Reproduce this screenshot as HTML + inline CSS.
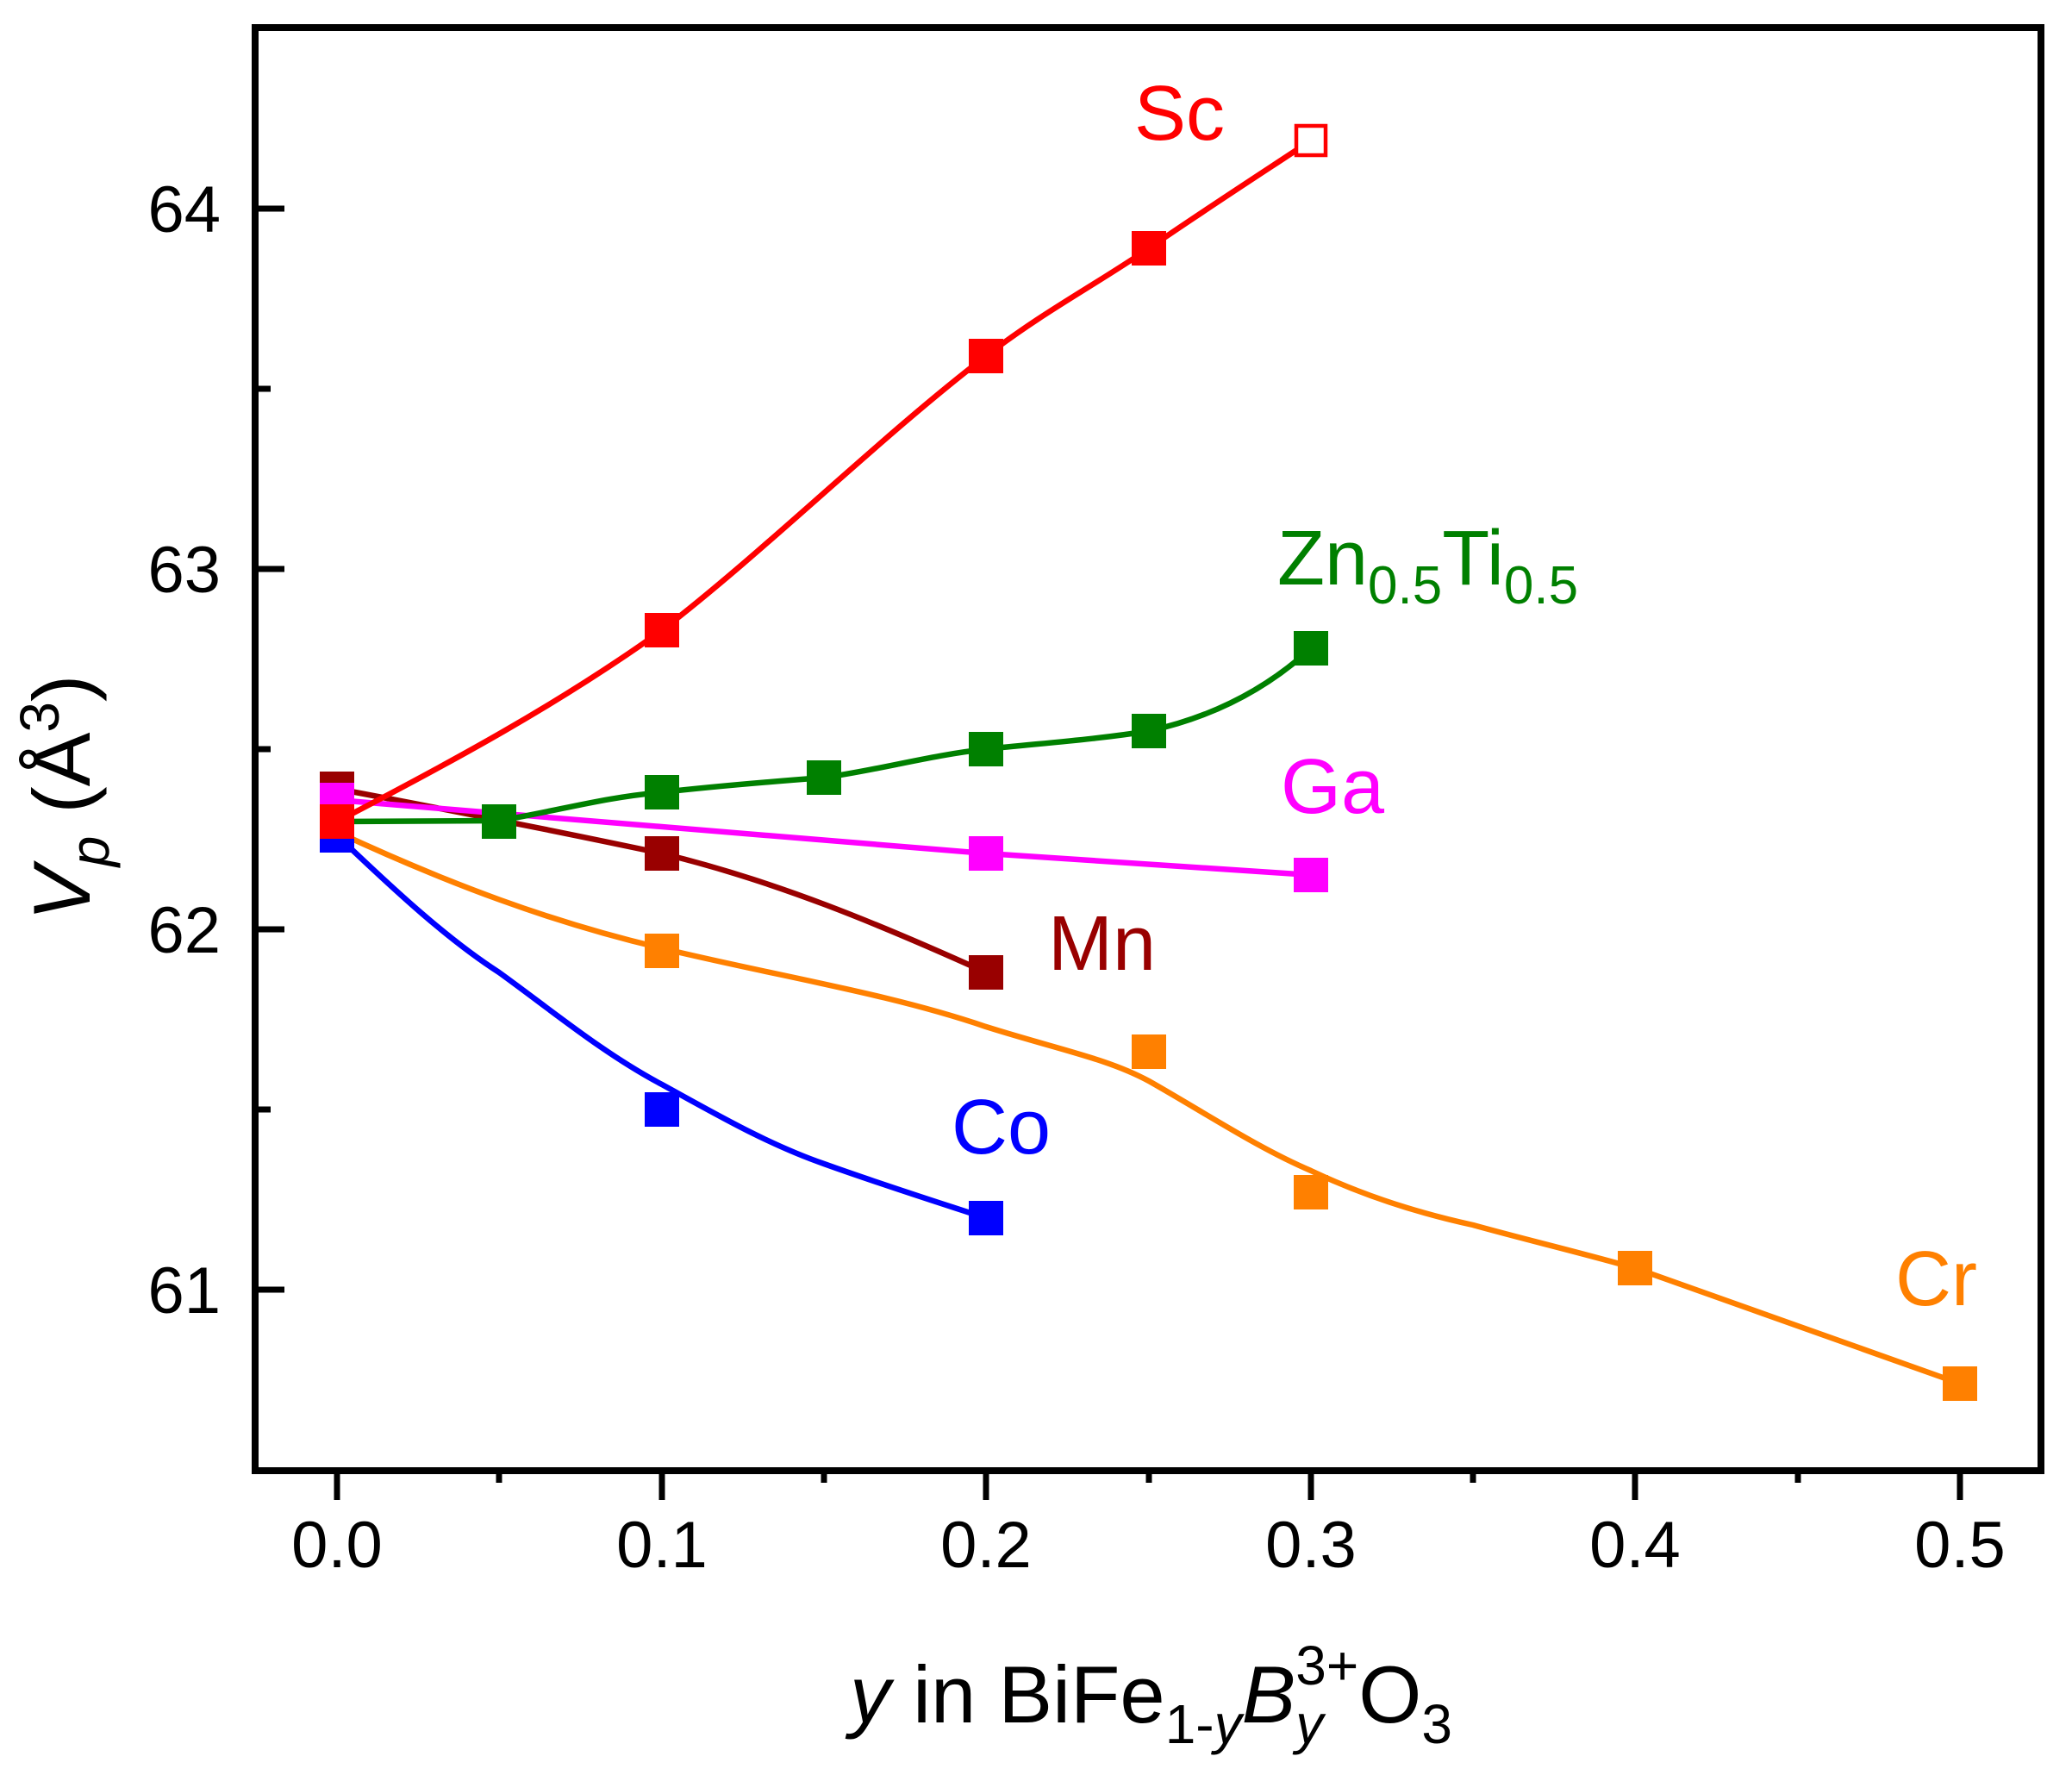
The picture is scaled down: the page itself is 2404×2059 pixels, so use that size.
<!DOCTYPE html>
<html><head><meta charset="utf-8"><style>
html,body{margin:0;padding:0;background:#fff;}
svg{display:block;}
text{font-family:"Liberation Sans",Arial,sans-serif;}
</style></head><body>
<svg width="2404" height="2059" viewBox="0 0 2404 2059" xmlns="http://www.w3.org/2000/svg">
<rect width="2404" height="2059" fill="#fff"/>
<rect x="296" y="32" width="2072" height="1674" fill="none" stroke="#000" stroke-width="8"/>
<g stroke="#000" stroke-width="7">
<line x1="296" y1="242" x2="330" y2="242"/>
<line x1="296" y1="660" x2="330" y2="660"/>
<line x1="296" y1="1078" x2="330" y2="1078"/>
<line x1="296" y1="1496" x2="330" y2="1496"/>
<line x1="296" y1="451" x2="314" y2="451"/>
<line x1="296" y1="869" x2="314" y2="869"/>
<line x1="296" y1="1287" x2="314" y2="1287"/>
<line x1="391" y1="1706" x2="391" y2="1740"/>
<line x1="768" y1="1706" x2="768" y2="1740"/>
<line x1="1144" y1="1706" x2="1144" y2="1740"/>
<line x1="1521" y1="1706" x2="1521" y2="1740"/>
<line x1="1897" y1="1706" x2="1897" y2="1740"/>
<line x1="2274" y1="1706" x2="2274" y2="1740"/>
<line x1="579" y1="1706" x2="579" y2="1720"/>
<line x1="956" y1="1706" x2="956" y2="1720"/>
<line x1="1333" y1="1706" x2="1333" y2="1720"/>
<line x1="1709" y1="1706" x2="1709" y2="1720"/>
<line x1="2086" y1="1706" x2="2086" y2="1720"/>
</g>
<g font-size="76" fill="#000" text-anchor="end">
<text x="256" y="269">64</text>
<text x="256" y="687">63</text>
<text x="256" y="1105">62</text>
<text x="256" y="1523">61</text>
</g>
<g font-size="76" fill="#000" text-anchor="middle">
<text x="391" y="1818">0.0</text>
<text x="768" y="1818">0.1</text>
<text x="1144" y="1818">0.2</text>
<text x="1521" y="1818">0.3</text>
<text x="1897" y="1818">0.4</text>
<text x="2274" y="1818">0.5</text>
</g>
<text x="986" y="1998" font-size="94" fill="#000"><tspan font-style="italic">y</tspan> in BiFe<tspan font-size="64" dy="24">1-</tspan><tspan font-size="64" font-style="italic">y</tspan><tspan font-style="italic" dy="-24">B</tspan><tspan font-size="64" font-style="italic" dy="24">y</tspan><tspan font-size="64" dx="-32" dy="-68">3+</tspan><tspan dy="44">O</tspan><tspan font-size="64" dy="24">3</tspan></text>
<text transform="translate(104,1068) rotate(-90)" font-size="94" fill="#000"><tspan font-style="italic">V</tspan><tspan font-size="64" font-style="italic" dy="22">p</tspan><tspan dy="-22"> (Å</tspan><tspan font-size="64" dy="-36">3</tspan><tspan dy="36">)</tspan></text>

<g fill="none" stroke-width="6.5">
<path stroke="#ff8000" d="M391,965 C520,1025 640,1070 768,1100 C900,1132 1030,1152 1144,1191 C1230,1218 1285,1228 1333,1254 C1400,1292 1460,1332 1521,1358 C1580,1386 1640,1406 1709,1421 C1770,1438 1830,1452 1897,1471 L2274,1605"/>
<path stroke="#0000ff" d="M391,969 C460,1035 520,1090 579,1128 C640,1172 700,1222 768,1258 C830,1292 890,1327 956,1350 C1020,1373 1080,1392 1144,1413"/>
<path stroke="#990000" d="M391,915 C550,945 650,965 768,990 C900,1022 1020,1072 1144,1128"/>
<path stroke="#ff00ff" d="M391,928 L1144,990 L1521,1015"/>
<path stroke="#008000" d="M391,953 L579,952 C650,940 700,925 768,919 C830,912 890,907 956,902 C1020,893 1080,876 1144,869 C1210,862 1270,858 1333,848 C1410,831 1472,797 1521,752"/>
<path stroke="#ff0000" d="M391,953 C520,886 650,816 768,731 C890,637 1020,508 1144,413 C1210,362 1270,331 1333,288 C1400,242 1462,202 1521,163"/>
</g>
<g fill="#ff8000">
<rect x="371" y="945" width="40" height="40"/><rect x="748" y="1083" width="40" height="40"/><rect x="1313" y="1200" width="40" height="40"/><rect x="1501" y="1363" width="40" height="40"/><rect x="1877" y="1451" width="40" height="40"/><rect x="2254" y="1585" width="40" height="40"/>
</g>
<g fill="#0000ff">
<rect x="371" y="949" width="40" height="40"/><rect x="748" y="1267" width="40" height="40"/><rect x="1124" y="1393" width="40" height="40"/>
</g>
<g fill="#990000">
<rect x="371" y="895" width="40" height="40"/><rect x="748" y="970" width="40" height="40"/><rect x="1124" y="1108" width="40" height="40"/>
</g>
<g fill="#ff00ff">
<rect x="371" y="908" width="40" height="40"/><rect x="1124" y="970" width="40" height="40"/><rect x="1501" y="995" width="40" height="40"/>
</g>
<g fill="#008000">
<rect x="559" y="933" width="40" height="40"/><rect x="748" y="899" width="40" height="40"/><rect x="936" y="882" width="40" height="40"/><rect x="1124" y="849" width="40" height="40"/><rect x="1313" y="828" width="40" height="40"/><rect x="1501" y="732" width="40" height="40"/>
</g>
<g fill="#ff0000">
<rect x="371" y="933" width="40" height="40"/><rect x="748" y="711" width="40" height="40"/><rect x="1124" y="393" width="40" height="40"/><rect x="1313" y="268" width="40" height="40"/>
</g>
<rect x="1504" y="146" width="34" height="34" fill="#fff" stroke="#ff0000" stroke-width="4.5"/>
<text x="1316" y="162" font-size="90" fill="#ff0000">Sc</text>
<text x="1482" y="678" font-size="90" fill="#008000">Zn<tspan font-size="62" dy="22">0.5</tspan><tspan dy="-22">Ti</tspan><tspan font-size="62" dy="22">0.5</tspan></text>
<text x="1486" y="943" font-size="90" fill="#ff00ff">Ga</text>
<text x="1216" y="1125" font-size="90" fill="#990000">Mn</text>
<text x="1104" y="1338" font-size="90" fill="#0000ff">Co</text>
<text x="2199" y="1514" font-size="90" fill="#ff8000">Cr</text>
</svg>
</body></html>
